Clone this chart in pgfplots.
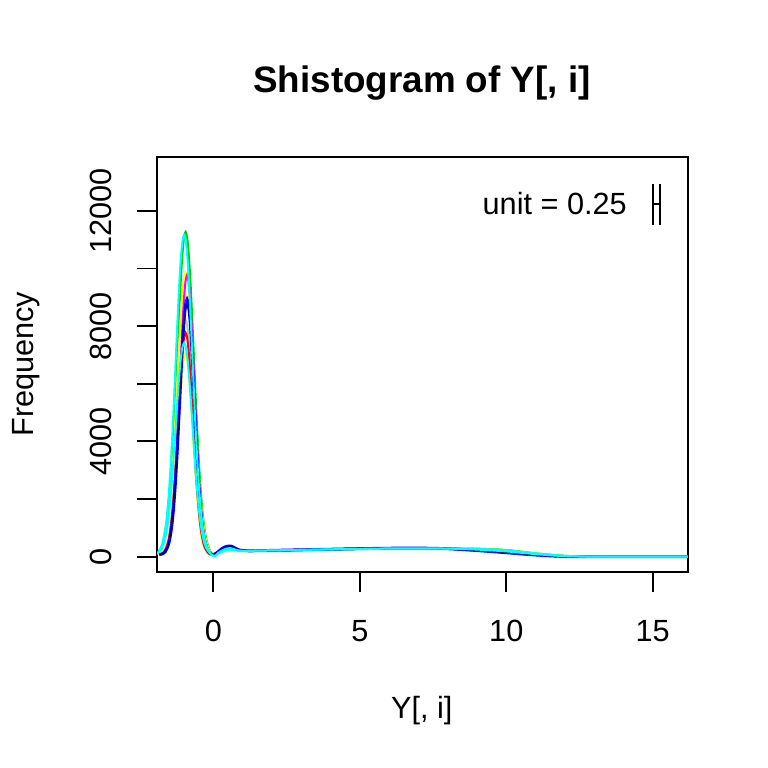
\documentclass[border=0pt]{standalone}
\usepackage{pgfplots}
\pgfplotsset{compat=1.18}
\usepackage{pgfplotstable}
\usepackage{fontspec}
\setmainfont{Liberation Sans}
\definecolor{rred}{HTML}{FF0000}
\definecolor{rgreen}{HTML}{00CD00}
\definecolor{rblue}{HTML}{0000FF}
\definecolor{rcyan}{HTML}{00FFFF}
\definecolor{rmag}{HTML}{FF00FF}
\definecolor{ryel}{HTML}{FFFF00}
\definecolor{rgray}{HTML}{BEBEBE}

\pgfplotstableread{
x     xa       xc       yel   grn   gry   yelb  redb  red   blu   blk   mag   cyn   cynb
-1.85 -1.985   -1.9775  85    87    82    81    82    76    76    76    77    103   92
-1.75 -1.87    -1.8625  129   137   119   112   116   97    97    96    99    192   151
-1.65 -1.755   -1.7475  266   294   233   210   224   168   167   165   177   447   320
-1.55 -1.64    -1.6325  619   697   526   462   501   373   371   364   400   1058  724
-1.50 -1.5825  -1.575   942   1067  795   693   755   568   566   554   613   1569  1062
-1.45 -1.525   -1.5175  1393  1582  1170  1015  1110  862   858   840   933   2268  1525
-1.40 -1.4675  -1.46    2010  2288  1684  1456  1595  1272  1265  1238  1380  3156  2113
-1.35 -1.41    -1.4025  2794  3184  2336  2016  2211  1832  1822  1783  1991  4233  2826
-1.30 -1.3525  -1.345   3745  4270  3126  2695  2958  2544  2530  2475  2767  5476  3649
-1.25 -1.295   -1.2875  4843  5524  4039  3479  3820  3408  3389  3314  3708  6808  4531
-1.20 -1.2375  -1.23    6019  6868  5017  4319  4744  4404  4380  4283  4794  8129  5406
-1.15 -1.18    -1.1725  7185  8201  5987  5152  5660  5472  5442  5321  5958  9339  6207
-1.10 -1.1225  -1.115   8253  9422  6875  5915  6500  6531  6495  6350  7112  10315 6854
-1.05 -1.065   -1.0575  9115  10408 7592  6531  7177  7502  7460  7293  8170  10948 7273
-1.00 -1.0075  -1.0     9674  11046 8057  6930  7616  8285  8239  8054  9023  11170 7420
-0.95 -0.95    -0.9425  9870  11270 8220  7070  7770  8792  8743  8547  9576  10948 7273
-0.90 -0.8925  -0.885   9674  11046 8057  6930  7616  8970  8920  8720  9770  10315 6854
-0.85 -0.835   -0.8275  9115  10408 7592  6531  7177  8792  8743  8547  9576  9339  6207
-0.80 -0.7775  -0.77    8253  9422  6875  5915  6500  8285  8239  8054  9023  8129  5406
-0.75 -0.72    -0.7125  7185  8201  5987  5152  5660  7502  7460  7293  8170  6808  4531
-0.70 -0.6625  -0.655   6019  6868  5017  4319  4744  6531  6495  6350  7112  5476  3649
-0.65 -0.605   -0.5975  4843  5524  4039  3479  3820  5472  5442  5321  5958  4233  2826
-0.60 -0.5475  -0.54    3745  4270  3126  2695  2958  4404  4380  4283  4794  3156  2113
-0.55 -0.49    -0.4825  2794  3184  2336  2016  2211  3408  3389  3314  3708  2268  1525
-0.50 -0.4325  -0.425   2010  2288  1684  1456  1595  2544  2530  2475  2767  1569  1062
-0.45 -0.375   -0.3675  1393  1582  1170  1015  1110  1832  1822  1783  1991  1058  724
-0.40 -0.3175  -0.31    942   1067  795   693   755   1272  1265  1238  1380  692   482
-0.35 -0.26    -0.2525  619   697   526   462   501   862   858   840   933   447   320
-0.30 -0.2025  -0.195   403   451   347   308   332   568   566   554   613   292   217
-0.20 -0.0875  -0.08    130   140   160   147   155   248   247   243   264   80    70
-0.10 0.0275   0.035    45    50    74    71    73    103   103   102   108   25    30
0.00  0.10     0.09     70    70    66    65    65    73    73    73    75    50    55
0.15  0.15     0.15     100   100   125   125   125   150   160   150   150   100   125
0.30  0.30     0.30     180   180   220   220   220   260   290   260   260   180   220
0.45  0.45     0.45     240   240   285   285   285   330   360   330   330   240   285
0.60  0.60     0.60     250   250   295   295   295   340   370   340   340   250   295
0.75  0.75     0.75     220   220   250   250   250   280   300   280   280   220   250
0.90  0.90     0.90     200   200   210   210   210   220   230   220   220   200   210
1.20  1.20     1.20     205   205   203   203   203   200   205   200   200   205   203
1.50  1.50     1.50     210   210   210   210   210   210   210   210   210   210   210
2.00  2.00     2.00     220   220   220   220   220   220   220   220   220   220   220
3.00  3.00     3.00     235   235   238   238   238   240   240   240   240   235   238
4.00  4.00     4.00     255   255   258   258   258   260   260   260   260   255   258
5.00  5.00     5.00     270   270   275   275   275   280   280   280   280   270   275
6.00  6.00     6.00     280   280   288   288   288   295   295   295   295   280   288
7.00  7.00     7.00     285   285   293   293   293   300   300   300   300   285   293
8.00  8.00     8.00     285   288   283   283   283   280   278   280   280   285   283
9.00  9.00     9.00     270   280   248   248   248   220   215   220   220   275   248
10.00 10.00    10.00    215   235   185   185   185   145   140   145   145   225   185
11.00 11.00    11.00    110   120   90    90    90    65    60    65    65    115   90
12.00 12.00    12.00    28    32    20    20    20    10    8     10    10    30    20
13.00 13.00    13.00    3     3     1     1     1     0     0     0     0     3     1
14.00 14.00    14.00    0     0     0     0     0     0     0     0     0     0     0
16.20 16.20    16.20    0     0     0     0     0     0     0     0     0     0     0
}\shdata

\begin{document}
\fontsize{23bp}{27bp}\selectfont
\begin{tikzpicture}
\path[use as bounding box] (0,0) rectangle (576bp,576bp);
\begin{axis}[
  at={(118bp,147.2bp)}, anchor=south west,
  width=397.9bp, height=311bp, scale only axis,
  xmin=-1.915, xmax=16.2, ymin=-520, ymax=13864,
  scaled y ticks=false, scaled x ticks=false,
  axis line style={line width=1.4bp, black},
  tick style={line width=1.4bp, black},
  tick align=outside, major tick length=15bp,
  tick pos=left,
  xtick={0,5,10,15}, xticklabels={0,5,10,15},
  ytick={0,2000,4000,6000,8000,10000,12000},
  yticklabels={0,,4000,,8000,,12000},
  xticklabel style={anchor=north, inner sep=0pt},
  yticklabel style={rotate=90, anchor=south, inner sep=0pt},
  xticklabel shift=21.2bp,
  yticklabel shift=19.2bp,
  every axis plot/.append style={line width=1.5bp, smooth, tension=0.4},
]
\addplot[no marks, rgray] table[x=x, y=gry] {\shdata};
\addplot[no marks, ryel] table[x=x, y=yelb] {\shdata};
\addplot[no marks, rred] table[x=x, y=redb] {\shdata};
\addplot[no marks, rred] table[x=x, y=red] {\shdata};
\addplot[no marks, rgreen] table[x=xa, y=grn] {\shdata};
\addplot[no marks, ryel] table[x=xa, y=yel] {\shdata};
\addplot[no marks, rmag] table[x=x, y=mag] {\shdata};
\addplot[no marks, rblue, line width=2.2bp] table[x=x, y=blu] {\shdata};
\addplot[no marks, black!60!rblue, line width=0.8bp] table[x=x, y=blk] {\shdata};
\addplot[no marks, rcyan] table[x=xc, y=cynb] {\shdata};
\addplot[no marks, rcyan] table[x=xc, y=cyn] {\shdata};
\end{axis}
\node[anchor=base, inner sep=0pt, font=\fontsize{27.6bp}{32bp}\selectfont\bfseries] at (316.5bp,506.5bp) {Shistogram of Y[, i]};
\node[anchor=base, inner sep=0pt] at (316.3bp,37.3bp) {Y[, i]};
\node[anchor=base, inner sep=0pt, rotate=90] at (25bp,302.8bp) {Frequency};
\node[anchor=base east, inner sep=0pt] at (470.25bp,414.75bp) {unit = 0.25};
\draw[line width=1.4bp] (489.5bp,438bp) -- (489.5bp,407.25bp);
\draw[line width=1.4bp] (495bp,438bp) -- (495bp,407.25bp);
\draw[line width=1bp] (489.5bp,423bp) -- (495bp,423bp);
\end{tikzpicture}
\end{document}
